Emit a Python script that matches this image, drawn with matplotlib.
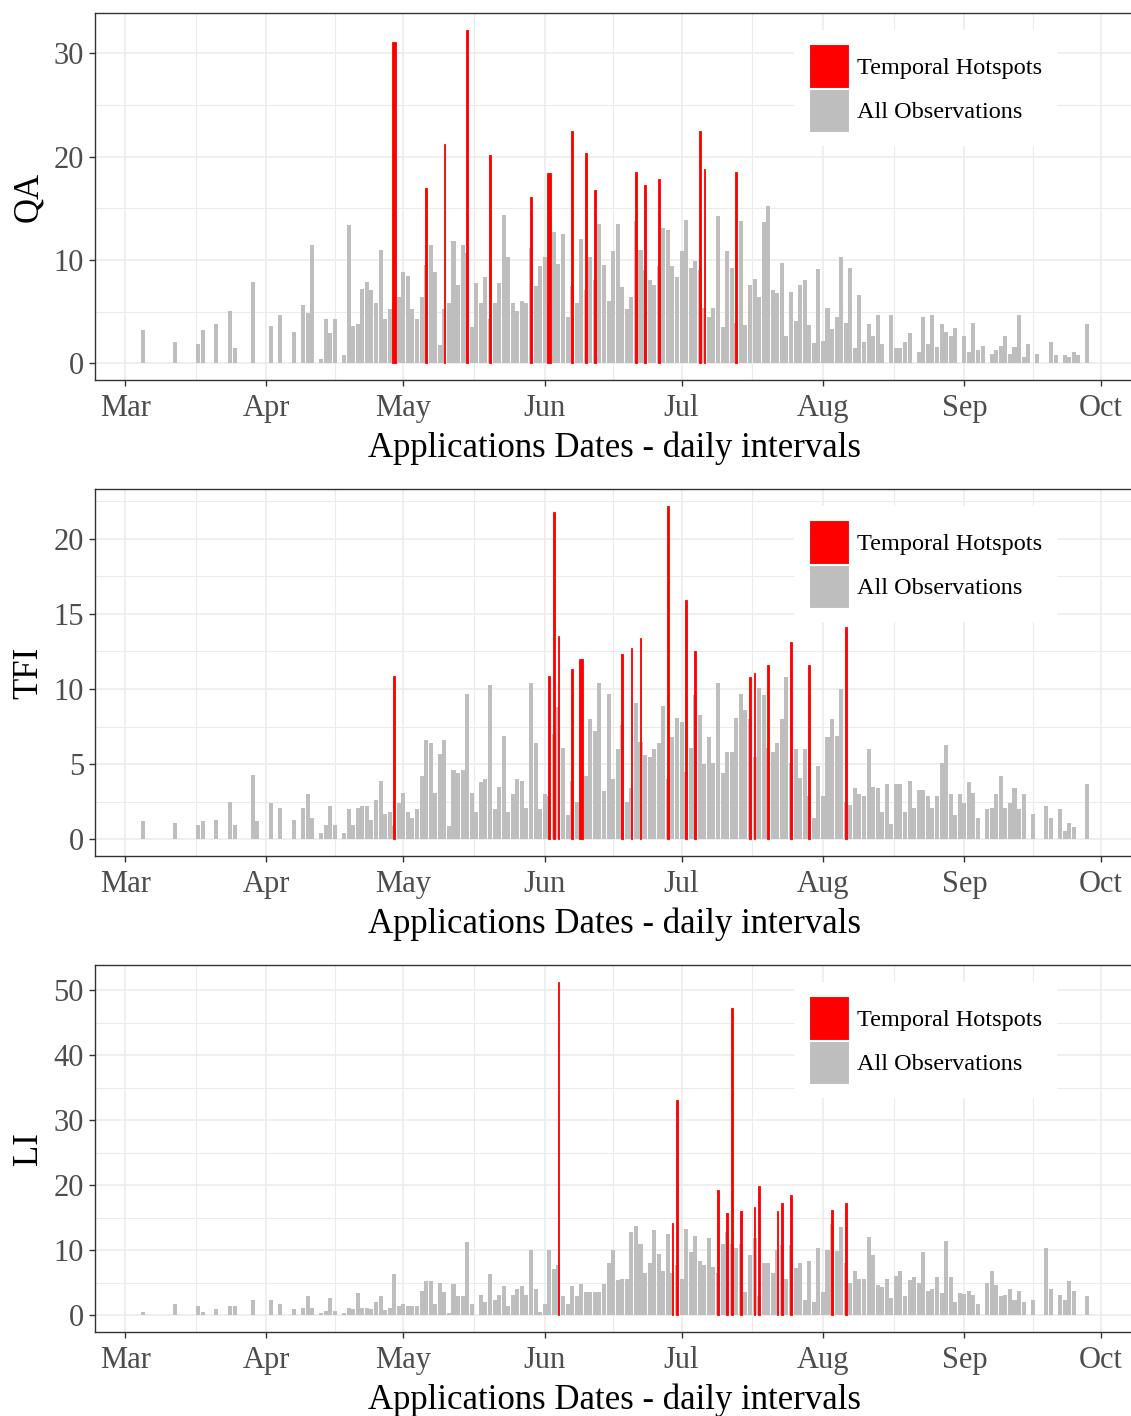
import numpy as np
import matplotlib
matplotlib.use('Agg')
import matplotlib.pyplot as plt
import matplotlib.dates as mdates
from matplotlib.patches import Patch
from matplotlib.ticker import MultipleLocator, FixedLocator

plt.rcParams['font.family'] = ['Liberation Serif', 'DejaVu Serif']

# ---------------- data (daily values, index = days since 1 March) ----------------
qa_all = [
    0, 0, 0, 0, 3.2, 0, 0, 0, 0, 0,
    0, 2.1, 0, 0, 0, 0, 1.9, 3.2, 0, 0,
    3.8, 0, 0, 5.1, 1.5, 0, 0, 0, 7.9, 0,
    0, 0, 3.6, 0, 4.7, 0, 0, 3.0, 0, 5.6,
    4.9, 11.5, 0, 0.4, 4.3, 2.9, 4.3, 0, 0.8, 13.4,
    3.6, 3.8, 7.2, 7.9, 7.1, 5.8, 11.0, 4.3, 5.3, 5.8,
    6.4, 8.8, 8.5, 5.3, 4.3, 6.4, 9.5, 11.5, 8.8, 1.8,
    5.3, 5.8, 11.8, 7.6, 11.5, 10.7, 3.5, 7.8, 5.8, 8.4,
    4.3, 5.8, 7.8, 14.4, 10.3, 5.8, 5.1, 6.0, 5.8, 11.2,
    7.5, 9.4, 10.3, 6.0, 12.7, 9.6, 12.5, 4.5, 7.5, 5.8,
    12.0, 7.1, 10.3, 8.1, 13.5, 9.5, 6.0, 10.9, 13.5, 7.4,
    5.3, 6.4, 13.8, 11.0, 9.0, 8.1, 7.6, 9.4, 13.1, 12.9,
    9.4, 8.4, 10.9, 13.9, 9.2, 9.9, 9.0, 5.4, 4.5, 5.4,
    14.3, 3.5, 10.9, 9.2, 3.9, 13.8, 3.7, 7.6, 8.2, 6.4,
    13.7, 15.2, 7.1, 6.8, 9.7, 2.6, 6.9, 4.1, 7.6, 8.1,
    3.7, 2.0, 9.1, 2.2, 5.4, 3.3, 4.5, 10.3, 3.9, 9.2,
    1.5, 6.6, 2.1, 3.8, 2.6, 4.7, 1.9, 0, 4.7, 1.5,
    1.5, 2.1, 2.9, 0, 1.1, 4.5, 1.9, 4.7, 1.6, 3.8,
    3.0, 2.6, 3.4, 0, 2.6, 1.1, 3.9, 1.3, 1.7, 0,
    0.9, 1.3, 1.7, 2.6, 0.9, 1.6, 4.7, 0.6, 1.9, 0,
    0.9, 0, 0, 2.1, 0.8, 0, 0.8, 0.6, 1.1, 0.8,
    0, 3.8,
]
qa_hot_days = [59, 66, 70, 75, 80, 89, 93, 98, 101, 103, 112, 114, 117, 126, 127, 134]
qa_hot_vals = [31.1, 17.0, 21.2, 32.3, 20.2, 16.1, 18.4, 22.5, 20.4, 16.8, 18.5, 17.3, 17.8, 22.5, 18.8, 18.5]

tfi_all = [
    0, 0, 0, 0, 1.2, 0, 0, 0, 0, 0,
    0, 1.1, 0, 0, 0, 0, 0.95, 1.2, 0, 0,
    1.3, 0, 0, 2.5, 0.95, 0, 0, 0, 4.3, 1.2,
    0, 0, 2.4, 0, 2.1, 0, 0, 1.3, 0, 2.1,
    3.0, 1.4, 0, 0.45, 0.95, 2.2, 0.95, 0, 0.45, 2.0,
    0.95, 2.1, 2.2, 2.2, 1.3, 2.6, 3.9, 1.7, 1.8, 0.9,
    2.4, 3.1, 1.8, 1.4, 2.0, 4.2, 6.6, 6.4, 3.1, 5.7,
    6.6, 0.9, 4.6, 4.4, 4.6, 9.7, 3.1, 1.8, 3.8, 4.0,
    10.3, 2.0, 3.5, 6.9, 1.8, 3.0, 4.0, 3.9, 2.1, 10.4,
    6.4, 2.0, 3.0, 2.9, 7.0, 8.8, 6.1, 1.6, 3.9, 2.5,
    5.0, 4.2, 8.0, 7.2, 10.4, 3.2, 9.7, 4.0, 6.0, 7.6,
    2.5, 3.4, 9.1, 6.5, 5.6, 5.5, 6.0, 6.4, 8.9, 4.0,
    6.8, 8.1, 7.8, 4.5, 6.1, 9.6, 8.3, 5.0, 6.8, 5.1,
    10.4, 4.4, 5.8, 5.8, 8.1, 9.7, 8.6, 8.0, 5.5, 10.1,
    9.6, 6.1, 5.8, 6.4, 8.0, 10.8, 5.1, 6.0, 4.1, 6.0,
    2.9, 1.4, 4.9, 2.9, 6.8, 8.0, 6.9, 10.0, 2.5, 2.3,
    3.4, 3.0, 2.9, 6.0, 3.5, 3.4, 1.8, 3.7, 1.0, 3.7,
    3.7, 1.8, 3.9, 2.1, 3.3, 3.3, 2.9, 2.1, 2.9, 5.1,
    6.3, 3.0, 1.6, 3.0, 2.4, 3.8, 3.1, 1.4, 0, 2.0,
    2.1, 3.0, 4.2, 2.1, 2.4, 3.4, 2.0, 3.0, 0, 1.7,
    0, 0, 2.2, 1.4, 0, 2.0, 0.55, 1.1, 0.8, 0,
    0, 3.7,
]
tfi_hot_days = [59, 93, 94, 95, 98, 100, 109, 111, 113, 119, 123, 125, 137, 138, 141, 146, 150, 158]
tfi_hot_vals = [10.9, 10.9, 21.8, 13.5, 11.3, 12.0, 12.3, 12.7, 13.4, 22.2, 15.9, 12.5, 10.8, 11.1, 11.6, 13.1, 11.6, 14.1]

li_all = [
    0, 0, 0, 0, 0.5, 0, 0, 0, 0, 0,
    0, 1.7, 0, 0, 0, 0, 1.4, 0.5, 0, 0,
    0.9, 0, 0, 1.4, 1.4, 0, 0, 0, 2.3, 0,
    0, 0, 2.4, 0, 1.7, 0, 0, 0.9, 0, 1.1,
    2.9, 1.1, 0, 0.4, 0.6, 2.7, 0.6, 0, 0.4, 1.2,
    0.9, 3.5, 1.1, 1.1, 0.9, 2.1, 2.9, 0.8, 1.1, 6.3,
    1.5, 1.8, 1.4, 1.5, 1.5, 3.8, 5.3, 5.3, 1.8, 5.0,
    3.6, 0.3, 4.8, 2.9, 2.9, 11.3, 1.8, 0, 3.2, 2.1,
    6.3, 2.3, 3.2, 4.5, 1.5, 3.2, 4.1, 4.5, 3.2, 10.1,
    4.1, 0.5, 1.8, 10.1, 7.1, 7.7, 2.9, 1.8, 4.5, 2.9,
    4.8, 3.6, 3.6, 3.6, 3.6, 4.8, 8.1, 10.1, 5.4, 5.6,
    5.6, 12.8, 13.7, 11.0, 6.5, 8.1, 13.1, 9.5, 6.8, 12.5,
    6.5, 7.7, 5.6, 13.3, 9.7, 12.2, 8.3, 7.7, 11.9, 7.4,
    6.5, 10.9, 12.8, 10.9, 10.4, 11.0, 3.6, 9.2, 11.9, 2.9,
    8.1, 8.1, 6.5, 10.0, 10.8, 5.6, 10.8, 7.2, 8.1, 2.3,
    8.4, 2.1, 10.4, 3.6, 10.1, 14.0, 9.9, 13.6, 8.1, 5.0,
    6.8, 5.6, 5.6, 12.1, 9.2, 4.7, 4.3, 5.6, 2.7, 6.1,
    6.8, 2.9, 5.5, 5.9, 4.9, 9.8, 3.8, 4.1, 5.9, 3.5,
    11.5, 5.9, 2.0, 3.4, 3.3, 3.8, 3.2, 1.7, 0, 4.9,
    6.8, 4.7, 2.9, 3.2, 4.1, 2.3, 3.8, 2.0, 0, 2.4,
    0, 0, 10.3, 4.1, 0, 3.2, 2.3, 5.3, 3.8, 0,
    0, 2.9,
]
li_hot_days = [95, 120, 121, 130, 132, 133, 135, 138, 139, 143, 144, 146, 155, 158]
li_hot_vals = [51.3, 14.2, 33.1, 19.3, 15.7, 47.2, 16.1, 16.7, 19.9, 16.1, 17.3, 18.5, 16.2, 17.3]

panel_names = ['QA', 'TFI', 'LI']
month_labels = ['Mar', 'Apr', 'May', 'Jun', 'Jul', 'Aug', 'Sep', 'Oct']
x_title = 'Applications Dates - daily intervals'
legend_labels = ['Temporal Hotspots', 'All Observations']

# ---------------- style ----------------
GRAY = '#BEBEBE'
RED = '#FF0000'
GRID = '#EBEBEB'
start = np.datetime64('2017-03-01')
wide_hot = {'QA': [59, 93], 'TFI': [100], 'LI': []}
y_major = {'QA': 10, 'TFI': 5, 'LI': 10}

fig = plt.figure(figsize=(11.31, 14.16), dpi=100)
W, H = 1131.0, 1416.0
panel_px = [(13, 380), (489, 856), (965, 1332)]
left_px, right_px = 95, 1134

month_nums = mdates.date2num([np.datetime64(f'2017-{m:02d}-01') for m in range(3, 11)])
mid_nums = (month_nums[:-1] + month_nums[1:]) / 2
x0 = mdates.date2num(start)

datasets = [(qa_all, qa_hot_days, qa_hot_vals),
            (tfi_all, tfi_hot_days, tfi_hot_vals),
            (li_all, li_hot_days, li_hot_vals)]

for (name, (vals, hdays, hvals), (top, bot)) in zip(panel_names, datasets, panel_px):
    ax = fig.add_axes([left_px / W, 1 - bot / H, (right_px - left_px) / W, (bot - top) / H])
    ax.set_axisbelow(True)
    days = x0 + np.arange(len(vals))
    ax.bar(days, vals, width=0.88, color=GRAY, edgecolor='none', linewidth=0, zorder=2)
    hd = x0 + np.array(hdays, dtype=float)
    widths = [0.85 if d in wide_hot[name] else 0.35 for d in hdays]
    ax.bar(hd, hvals, width=widths, color=RED, edgecolor=RED, linewidth=0.6, zorder=3)

    ymax = max(max(vals), max(hvals))
    ax.set_ylim(-0.05 * ymax, ymax * 1.05)
    ax.set_xlim(x0 - 6.6, x0 + 221.2)

    ax.set_xticks(month_nums)
    ax.set_xticklabels(month_labels)
    ax.xaxis.set_minor_locator(FixedLocator(mid_nums))
    ax.yaxis.set_major_locator(MultipleLocator(y_major[name]))
    ax.yaxis.set_minor_locator(MultipleLocator(y_major[name] / 2))

    ax.grid(True, which='major', color=GRID, linewidth=1.1)
    ax.grid(True, which='minor', color=GRID, linewidth=0.8)
    ax.tick_params(which='minor', length=0)
    ax.tick_params(which='major', length=4, width=1, color='#333333',
                   labelsize=22, labelcolor='#4D4D4D')
    ax.tick_params(axis='x', pad=6)
    ax.tick_params(axis='y', pad=4)
    for s in ax.spines.values():
        s.set_color('#333333')
        s.set_linewidth(1.0)

    ax.set_xlabel(x_title, fontsize=25, color='black', labelpad=6)
    ax.set_ylabel(name, fontsize=25, color='black', labelpad=6)

    handles = [Patch(facecolor=RED, edgecolor='white', linewidth=0.8),
               Patch(facecolor=GRAY, edgecolor='white', linewidth=0.8)]
    leg = ax.legend(handles, legend_labels, loc='upper left',
                    bbox_to_anchor=(0.673, 0.954), borderaxespad=0.0,
                    fontsize=17.5,
                    handlelength=1.65, handleheight=2.35, labelspacing=0.05,
                    handletextpad=0.33, borderpad=0.6, frameon=True,
                    fancybox=False, framealpha=1.0)
    leg.get_frame().set_facecolor('white')
    leg.get_frame().set_edgecolor('none')

fig.savefig('out.png', dpi=100)
